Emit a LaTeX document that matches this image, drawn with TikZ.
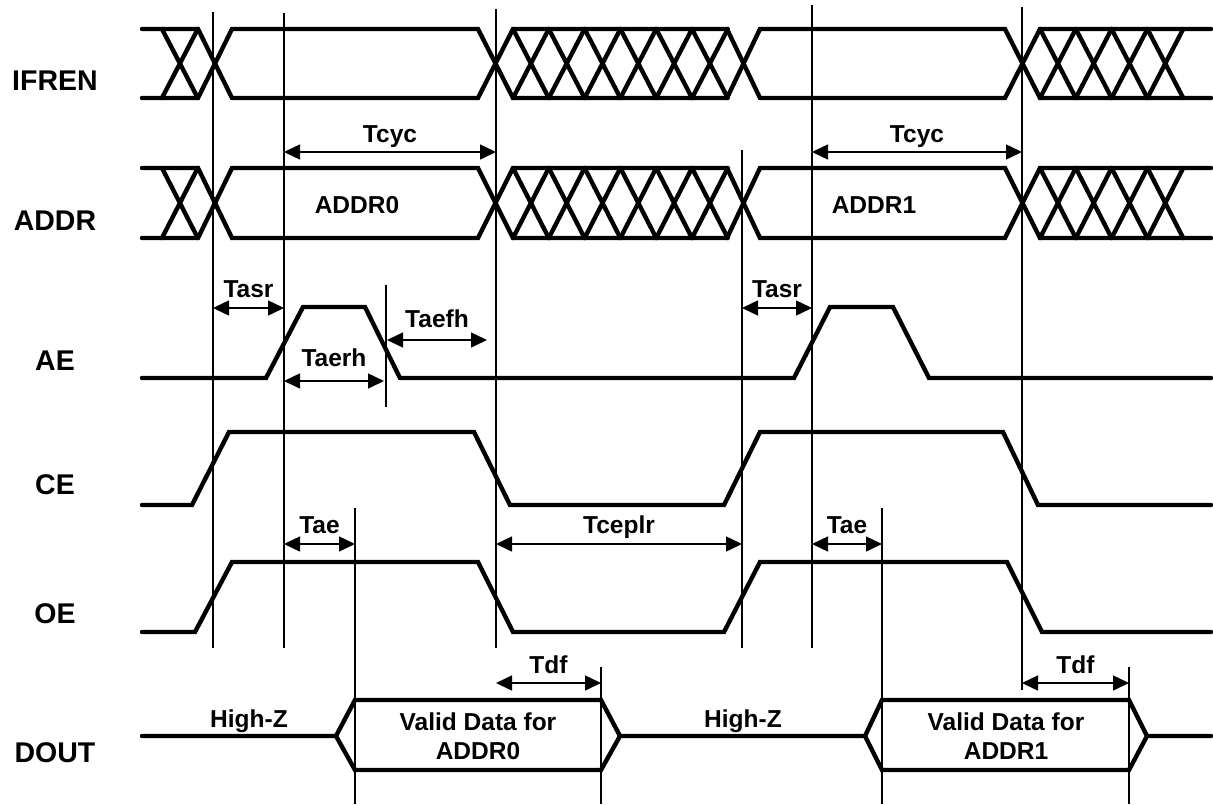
\documentclass[tikz,border=0pt]{standalone}
\usepackage{fontspec}
\setmainfont{Liberation Sans}
\usepackage{tikz}
\usetikzlibrary{arrows.meta}

\begin{document}
\begin{tikzpicture}[x=1pt,y=-1pt,
  sig/.style={line width=4.4pt,line cap=round,line join=miter},
  guide/.style={line width=1.2pt},
  dim/.style={line width=1.5pt,<->,>={Triangle[length=16pt,width=15pt]}},
  lbl/.style={font=\fontsize{24.5}{29}\selectfont\bfseries,inner sep=0pt},
  sname/.style={font=\fontsize{28.5}{34}\selectfont\bfseries,inner sep=0pt,anchor=base},
]
\useasboundingbox (0,0) rectangle (1213,804);
\foreach \x/\ya/\yb in {213/12/648,284/13/648,496/9/648,386/285/407,742/150/648,
    812/5/648,1022/7/690,355/508/804,882/508/804,601/667/804,1129/667/804}
  \draw[guide] (\x,\ya) -- (\x,\yb);
\foreach \t/\b in {29/98,168/238}{
  \draw[sig] (142,\t) -- (198,\t) -- (232,\b) -- (478,\b) -- (513,\t) -- (727,\t)
    -- (760,\b) -- (1005,\b) -- (1040,\t) -- (1211,\t);
  \draw[sig] (142,\b) -- (198,\b) -- (232,\t) -- (478,\t) -- (513,\b) -- (727,\b)
    -- (760,\t) -- (1005,\t) -- (1040,\b) -- (1211,\b);
  \foreach \s/\n in {162/1,513/6,1040/4}
    \foreach \i in {1,...,\n}
      \draw[sig] ({\s+35.8*(\i-1)},\t) -- ({\s+35.8*\i},\b)
        ({\s+35.8*(\i-1)},\b) -- ({\s+35.8*\i},\t);
}
\draw[sig] (142,378) -- (266,378) -- (303,307) -- (365,307) -- (400,378) -- (794,378)
  -- (830,307) -- (893,307) -- (929,378) -- (1211,378);
\draw[sig] (142,505) -- (192,505) -- (229,432) -- (474,432) -- (510,505) -- (724,505)
  -- (760,432) -- (1003,432) -- (1038,505) -- (1211,505);
\draw[sig] (142,632) -- (195,632) -- (232,562) -- (478,562) -- (513,632) -- (724,632)
  -- (760,562) -- (1007,562) -- (1042,632) -- (1211,632);
\draw[sig] (142,736) -- (336,736) -- (355,700) -- (601,700) -- (620,736) -- (865,736)
  -- (882,700) -- (1129,700) -- (1147,736) -- (1211,736);
\draw[sig] (336,736) -- (355,770) -- (601,770) -- (620,736);
\draw[sig] (865,736) -- (882,770) -- (1129,770) -- (1147,736);

\node[sname] (ifren) at (55,90) {IFREN};
\node[sname] (addr) at (55,230) {ADDR};
\node[sname] (ae) at (55,370) {AE};
\node[sname] (ce) at (55,494) {CE};
\node[sname] (oe) at (55,623) {OE};
\node[sname] (dout) at (55,762) {DOUT};

\node[lbl,anchor=base] (addr0) at (357,213) {ADDR0};
\node[lbl,anchor=base] (addr1) at (874,213) {ADDR1};
\node[lbl,anchor=base] (hiz0) at (249,727) {High-Z};
\node[lbl,anchor=base] (hiz1) at (743,727) {High-Z};
\node[lbl,align=center] (data0) at (478,736) {Valid Data for\\ADDR0};
\node[lbl,align=center] (data1) at (1006,736) {Valid Data for\\ADDR1};

\draw[dim] (284,152) -- (496,152) node[lbl,midway,anchor=base,yshift=10pt] (tcyc0) {Tcyc};
\draw[dim] (812,152) -- (1022,152) node[lbl,midway,anchor=base,yshift=10pt] (tcyc1) {Tcyc};
\draw[dim] (213,308) -- (284,308) node[lbl,midway,anchor=base,yshift=11pt] (tasr0) {Tasr};
\draw[dim] (742,308) -- (812,308) node[lbl,midway,anchor=base,yshift=11pt] (tasr1) {Tasr};
\draw[dim] (387,340) -- (487,340) node[lbl,midway,anchor=base,yshift=13pt] (taefh) {Taefh};
\draw[dim] (284,381) -- (384,381) node[lbl,midway,anchor=base,yshift=15pt] (taerh) {Taerh};
\draw[dim] (284,544) -- (355,544) node[lbl,midway,anchor=base,yshift=11pt] (tae0) {Tae};
\draw[dim] (812,544) -- (882,544) node[lbl,midway,anchor=base,yshift=11pt] (tae1) {Tae};
\draw[dim] (496,544) -- (742,544) node[lbl,midway,anchor=base,yshift=11pt] (tceplr) {Tceplr};
\draw[dim] (496,683) -- (601,683) node[lbl,midway,anchor=base,yshift=10pt] (tdf0) {Tdf};
\draw[dim] (1022,683) -- (1129,683) node[lbl,midway,anchor=base,yshift=10pt] (tdf1) {Tdf};
\end{tikzpicture}
\end{document}
